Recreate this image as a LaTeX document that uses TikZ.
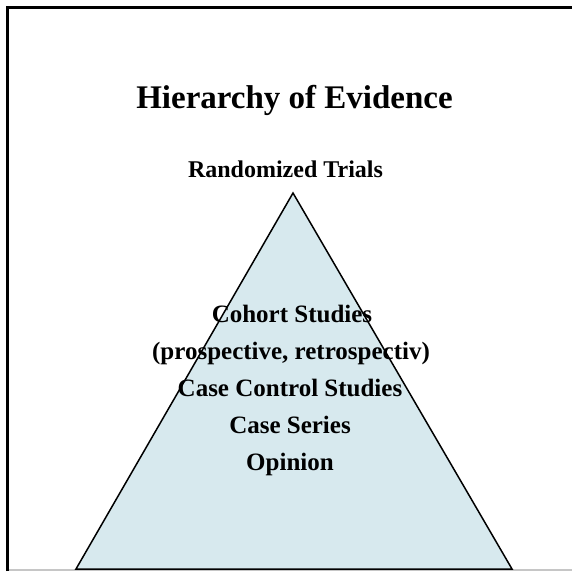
\documentclass[tikz,border=0pt]{standalone}
\usepackage{fontspec}
\setmainfont{Liberation Serif}
\definecolor{evidence}{RGB}{215,233,238}

\begin{document}
\begin{tikzpicture}[
    x=1pt,y=1pt,
    title/.style={font=\fontsize{33}{40}\selectfont\bfseries, anchor=base, inner sep=0},
    level/.style={font=\fontsize{25}{30}\selectfont\bfseries, anchor=base, inner sep=0}
]
\useasboundingbox (0,0) rectangle (572,571);

% frame
\draw[gray!45, line width=1.5pt] (9,1) -- (572,1);
\draw[line width=3pt] (7.5,0) -- (7.5,563.5) -- (572,563.5);

% pyramid
\coordinate (apex) at (293,378);
\coordinate (left) at (76,2);
\coordinate (right) at (512,2);
\draw[fill=evidence, line width=1.5pt] (apex) -- (left) -- (right) -- cycle;

\node[title] (head) at (294.5,462) {Hierarchy of Evidence};
\node[level, font=\fontsize{24}{29}\selectfont\bfseries] (top) at (285.5,393) {Randomized Trials};

\node[level] (cohort) at (292,249) {Cohort Studies};
\node[level] (kind) at (291,212) {(prospective, retrospectiv)};
\node[level] (control) at (290,175) {Case Control Studies};
\node[level] (series) at (290,138) {Case Series};
\node[level] (opinion) at (290,101) {Opinion};
\end{tikzpicture}
\end{document}
